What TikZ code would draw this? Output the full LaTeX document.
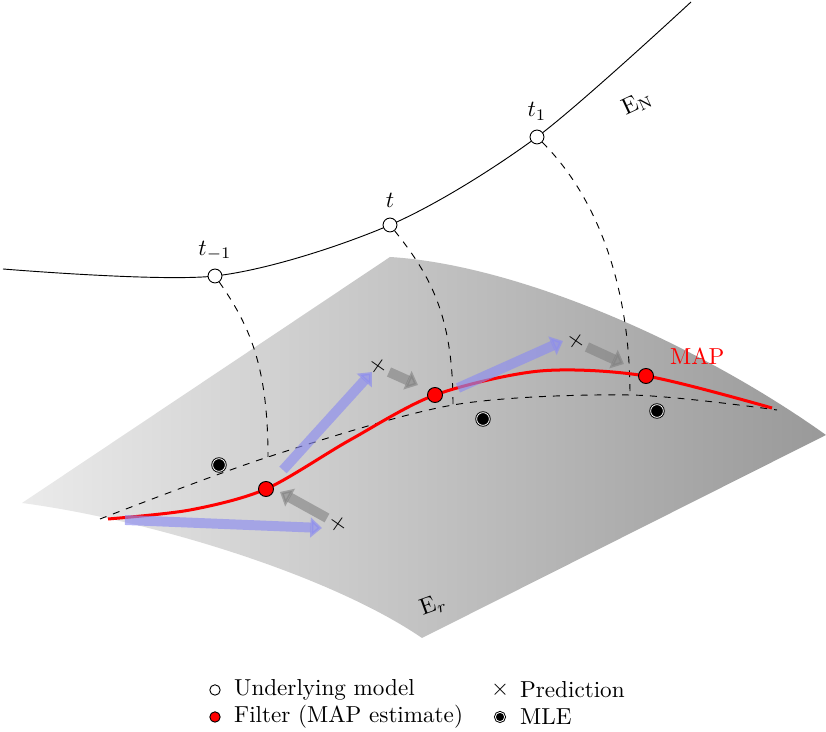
\documentclass[tikz,border=0pt]{standalone}
\usepackage{amsmath}
\usepackage{amssymb}
\usetikzlibrary{arrows.meta,shapes}
\definecolor{updblue}{RGB}{140,140,240}
\newcommand{\MAPtxt}[1]{\textcolor{red}{#1}}

\begin{document}
\begin{tikzpicture}[x=0.4325pt,y=-0.4325pt,
  model/.style={circle,draw,fill=white,inner sep=0pt,minimum size=6pt},
  filt/.style={circle,draw,fill=red,inner sep=0pt,minimum size=6.5pt},
  mle/.style={circle,draw,double=white,double distance=0.35pt,fill=black,inner sep=0pt,minimum size=5.5pt},
  pred/.style={inner sep=0pt,rotate=10},
  upd/.style={line width=4.3pt,draw=updblue,opacity=0.65,-{Triangle[length=5pt,width=8.5pt]}},
  prop/.style={line width=4.3pt,draw=gray,opacity=0.6,-{Triangle[length=5pt,width=8.5pt]}},
  proj/.style={dashed,thin}]

  \useasboundingbox (0,0) rectangle (826,732);

  %% points
  \coordinate (e0) at (3,269);
  \coordinate (m1) at (215,276);
  \coordinate (m2) at (390,225);
  \coordinate (m3) at (537,137);
  \coordinate (e4) at (691,2);

  \coordinate (s0) at (100,519);
  \coordinate (s1) at (268,457);
  \coordinate (s2) at (453,405);
  \coordinate (s3) at (630,395);
  \coordinate (s4) at (777,410);

  \coordinate (r0) at (108,519);
  \coordinate (f1) at (266,489);
  \coordinate (f2) at (435,395);
  \coordinate (f3) at (646,376);
  \coordinate (r4) at (772,408);

  %% surface E_r
  \shade[left color=black!8,right color=black!40]
    (22,503) -- (390,257) .. controls (520,265) and (700,345) .. (826,435)
    -- (422,638) .. controls (330,575) and (150,520) .. (22,503) -- cycle;
  \node[rotate=20] (Er) at (433,605) {$\mathrm{E}_r$};

  %% manifold E_N
  \draw plot[smooth] coordinates {(e0) (m1) (m2) (m3) (e4)};
  \node[rotate=25] (EN) at (637,103) {$\mathrm{E}_\mathrm{N}$};

  \node[model,label={[label distance=0pt]above:$t_{-1}$}] (M1) at (m1) {};
  \node[model,label={[label distance=1pt]above:$t$}] (M2) at (m2) {};
  \node[model,label={[label distance=0.5pt]above:$t_1$}] (M3) at (m3) {};

  %% projections
  \draw[proj] (M1) .. controls +(35,50) and +(0,-90) .. (s1);
  \draw[proj] (M2) .. controls +(40,50) and +(0,-90) .. (s2);
  \draw[proj] (M3) .. controls +(60,60) and +(0,-110) .. (s3);
  \draw[proj] plot[smooth] coordinates {(s0) (s1) (s2) (s3) (s4)};

  %% filter path
  \draw[red,line width=1.3pt] plot[smooth] coordinates
    {(r0) (190,510) (f1) (350,440) (f2) (540,371) (f3) (r4)};

  %% predictions
  \node[pred] (P1) at (338,524) {$\times$};
  \node[pred] (P2) at (378,366) {$\times$};
  \node[pred] (P3) at (576,341) {$\times$};

  \coordinate (b1s) at (125,520); \coordinate (b1e) at (322,528);
  \coordinate (b2s) at (283,470); \coordinate (b2e) at (372,372);
  \coordinate (b3s) at (458,388); \coordinate (b3e) at (563,341);
  \draw[upd] (b1s) -- (b1e);
  \draw[upd] (b2s) -- (b2e);
  \draw[upd] (b3s) -- (b3e);

  \coordinate (g1s) at (327,518); \coordinate (g1e) at (280,492);
  \coordinate (g2s) at (389,372); \coordinate (g2e) at (418,385);
  \coordinate (g3s) at (587,347); \coordinate (g3e) at (624,364);
  \draw[prop] (g1s) -- (g1e);
  \draw[prop] (g2s) -- (g2e);
  \draw[prop] (g3s) -- (g3e);

  %% estimates
  \node[filt] (F1) at (f1) {};
  \node[filt] (F2) at (f2) {};
  \node[filt] (F3) at (f3) {};
  \node[anchor=west] (MAP) at (662,356) {\MAPtxt{MAP}};

  \node[mle] (L1) at (219,465) {};
  \node[mle] (L2) at (483,419) {};
  \node[mle] (L3) at (657,411) {};

  %% legend
  \node[model,minimum size=4.5pt] (k1) at (215,690) {};
  \node[anchor=west] at (226,690) {Underlying model};
  \node[filt,minimum size=4.5pt] (k2) at (215,717) {};
  \node[anchor=west] at (226,717) {Filter (MAP estimate)};
  \node[inner sep=0pt] (k3) at (500,690) {$\times$};
  \node[anchor=west] at (512,690) {Prediction};
  \node[mle,minimum size=4pt] (k4) at (500,717) {};
  \node[anchor=west] at (512,717) {MLE};
\end{tikzpicture}
\end{document}
